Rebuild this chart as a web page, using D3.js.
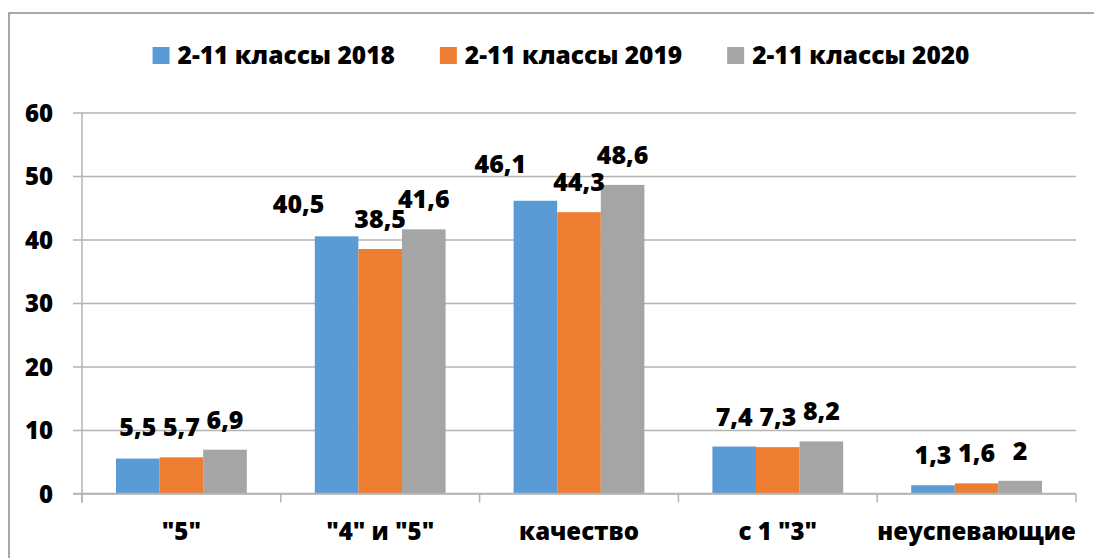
<!DOCTYPE html>
<html>
<head>
<meta charset="utf-8">
<script src="https://cdn.jsdelivr.net/npm/d3@7"></script>
<style>
  html, body { margin: 0; padding: 0; background: #fff; }
  svg { display: block; }
  text { font-family: "Open Sans", "Liberation Sans", Arial, sans-serif; font-weight: 800; fill: #000; }
</style>
</head>
<body>
<svg id="chart" width="1094" height="558"></svg>
<script>
// ---- data ----
const categories = ['"5"', '"4" и "5"', 'качество', 'с 1 "3"', 'неуспевающие'];
const seriesNames = ['2-11 классы 2018', '2-11 классы 2019', '2-11 классы 2020'];
const values2018 = [5.5, 40.5, 46.1, 7.4, 1.3];
const values2019 = [5.7, 38.5, 44.3, 7.3, 1.6];
const values2020 = [6.9, 41.6, 48.6, 8.2, 2];
const yTicks = [0, 10, 20, 30, 40, 50, 60];
const valueLabels2018 = ['5,5', '40,5', '46,1', '7,4', '1,3'];
const valueLabels2019 = ['5,7', '38,5', '44,3', '7,3', '1,6'];
const valueLabels2020 = ['6,9', '41,6', '48,6', '8,2', '2'];

// ---- style / layout ----
const colors = ['#5B9BD5', '#ED7D31', '#A5A5A5'];
const FONT = '"Open Sans", "Liberation Sans", Arial, sans-serif';
// manual label nudges [series][category] -> [dx, dy] (as placed in the original)
const labelNudges = [
  [[0,-2],[-38,-2],[-35,-7],[0,0],[0,0]],
  [[0,0],[0,0],[0,0],[0,0],[0,0]],
  [[0,0],[0,0],[0,0],[0,0],[0,0]]
];

const svg = d3.select('#chart');
const plot = { left: 82, right: 1076, top: 112.5, bottom: 493.5 };

const series = [values2018, values2019, values2020];
const labels = [valueLabels2018, valueLabels2019, valueLabels2020];

// outer frame
svg.append('rect')
  .attr('x', 9).attr('y', 13).attr('width', 1200).attr('height', 700)
  .attr('fill', 'none').attr('stroke', '#8c8c8c').attr('stroke-width', 1.5);

const x0 = d3.scaleBand().domain(categories).range([plot.left, plot.right]).paddingInner(0).paddingOuter(0);
const x1 = d3.scaleBand().domain(d3.range(3)).range([34, x0.bandwidth() - 34]).paddingInner(0).paddingOuter(0);
const y = d3.scaleLinear().domain([0, 60]).range([plot.bottom, plot.top]);

// gridlines (with tick extension)
const yAxis = d3.axisLeft(y).tickValues(yTicks).tickSize(0).tickPadding(0).tickFormat(d3.format('d'));
const gy = svg.append('g').attr('transform', `translate(${plot.left - 9},0)`).call(yAxis);
gy.select('.domain').remove();
gy.selectAll('.tick line').attr('stroke', '#b3b3b3').attr('stroke-width', 1.5)
  .attr('x1', 0).attr('x2', plot.right - plot.left + 9);
gy.selectAll('.tick text').attr('x', -20).attr('dy', '0.36em')
  .style('font-size', '24px').style('font-family', FONT).style('font-weight', '800').attr('fill', '#000');

// y axis line
svg.append('line')
  .attr('x1', plot.left).attr('x2', plot.left)
  .attr('y1', plot.top).attr('y2', plot.bottom + 9)
  .attr('stroke', '#b3b3b3').attr('stroke-width', 1.5);

// bars
const groups = svg.append('g').selectAll('g')
  .data(categories).join('g')
  .attr('transform', d => `translate(${x0(d)},0)`);

groups.selectAll('rect')
  .data((d, ci) => series.map((s, si) => ({ si, ci, v: s[ci] })))
  .join('rect')
  .attr('x', d => x1(d.si))
  .attr('width', x1.bandwidth())
  .attr('y', d => y(d.v))
  .attr('height', d => y(0) - y(d.v))
  .attr('fill', d => colors[d.si]);

// x axis
const xAxis = d3.axisBottom(x0).tickSize(0).tickPadding(0);
const gx = svg.append('g').attr('transform', `translate(0,${plot.bottom})`).call(xAxis);
gx.select('.domain').remove();
gx.selectAll('.tick text').attr('y', 46.5).attr('dy', 0)
  .style('font-size', '24px').style('font-family', FONT).style('font-weight', '800').attr('fill', '#000');
svg.append('line')
  .attr('x1', plot.left - 9).attr('x2', plot.right)
  .attr('y1', plot.bottom).attr('y2', plot.bottom)
  .attr('stroke', '#b3b3b3').attr('stroke-width', 1.5);
// category separator ticks
const boundaries = categories.map(c => x0(c)).concat([x0(categories[categories.length - 1]) + x0.bandwidth()]);
svg.append('g').selectAll('line').data(boundaries).join('line')
  .attr('x1', d => d).attr('x2', d => d)
  .attr('y1', plot.bottom).attr('y2', plot.bottom + 9)
  .attr('stroke', '#b3b3b3').attr('stroke-width', 1.5);

// value labels
groups.selectAll('text.val')
  .data((d, ci) => series.map((s, si) => ({ si, ci, v: s[ci], t: labels[si][ci] })))
  .join('text')
  .attr('class', 'val')
  .attr('text-anchor', 'middle')
  .attr('x', d => x1(d.si) + x1.bandwidth() / 2 + labelNudges[d.si][d.ci][0])
  .attr('y', d => y(d.v) - 21 + labelNudges[d.si][d.ci][1])
  .style('font-size', '25px')
  .text(d => d.t);

// legend
const legend = svg.append('g');
const items = legend.selectAll('g').data(seriesNames).join('g');
items.append('rect').attr('width', 17).attr('height', 17).attr('y', -17).attr('fill', (d, i) => colors[i]);
items.append('text').attr('x', 25).attr('y', -0.5).style('font-size', '24.5px').text(d => d);
let cursor = 0;
items.each(function () {
  const w = this.getBBox().width;
  d3.select(this).attr('transform', `translate(${cursor},0)`);
  cursor += w + 45;
});
const totalW = cursor - 45;
legend.attr('transform', `translate(${561 - totalW / 2},64)`);
</script>
</body>
</html>
